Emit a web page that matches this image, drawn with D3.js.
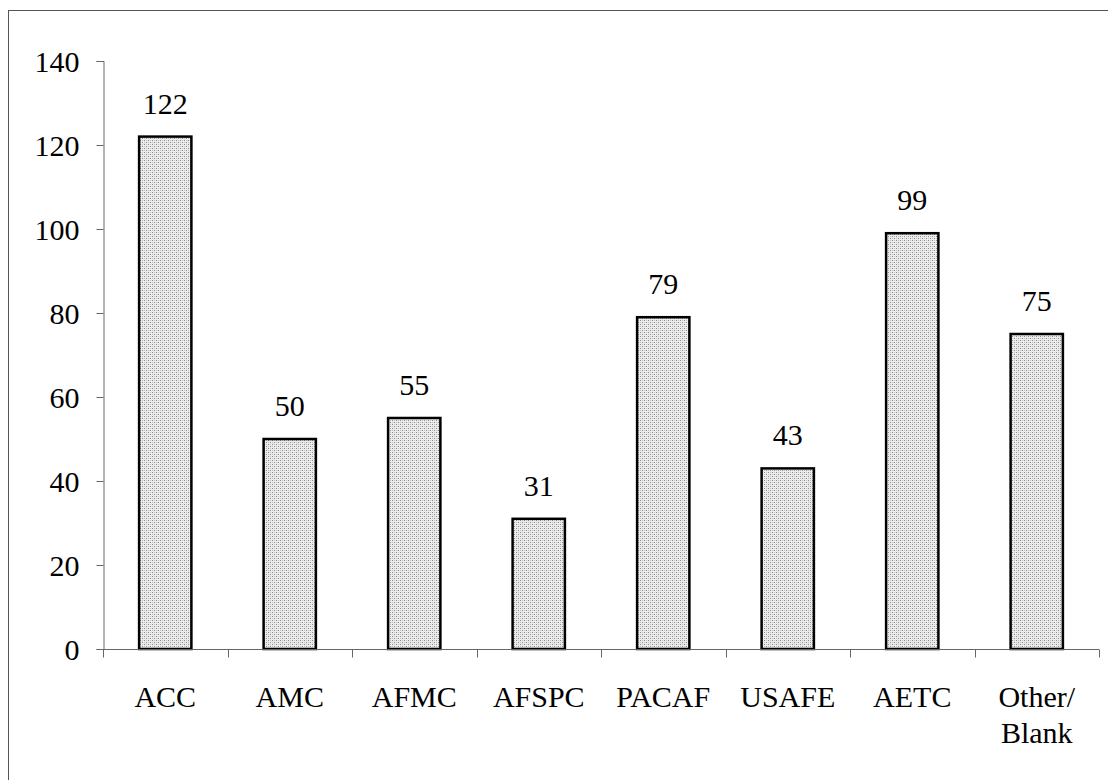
<!DOCTYPE html>
<html lang="en">
<head>
<meta charset="utf-8">
<script src="https://d3js.org/d3.v7.min.js"></script>
<style>
  body { margin: 0; background: #fff; }
  svg text { font-family: "Liberation Serif", "DejaVu Serif", serif !important; fill: #000; }
</style>
</head>
<body>
<script>

// chart data
var categories = ["ACC", "AMC", "AFMC", "AFSPC", "PACAF", "USAFE", "AETC", "Other/\nBlank"];
var counts = [122, 50, 55, 31, 79, 43, 99, 75];
var yTicks = [0, 20, 40, 60, 80, 100, 120, 140];

var width = 1108, height = 780;
var serif = "Liberation Serif, serif";

var svg = d3.select("body").append("svg")
  .attr("width", width)
  .attr("height", height);

// stipple fill for the bars
var defs = svg.append("defs");
var pat = defs.append("pattern")
  .attr("id", "stip")
  .attr("patternUnits", "userSpaceOnUse")
  .attr("width", 4).attr("height", 4);
pat.append("rect").attr("width", 4).attr("height", 4).attr("fill", "#ececec");
pat.append("rect").attr("x", 0).attr("y", 0).attr("width", 1).attr("height", 1).attr("fill", "#8c8c8c");
pat.append("rect").attr("x", 2).attr("y", 2).attr("width", 1).attr("height", 1).attr("fill", "#8c8c8c");
pat.append("rect").attr("x", 2).attr("y", 0).attr("width", 1).attr("height", 1).attr("fill", "#c0c0c0");
pat.append("rect").attr("x", 0).attr("y", 2).attr("width", 1).attr("height", 1).attr("fill", "#c0c0c0");

// outer frame (right/bottom fall off the picture)
svg.append("rect")
  .attr("x", 8.5).attr("y", 10.5)
  .attr("width", 1110).attr("height", 790)
  .attr("fill", "none")
  .attr("stroke", "#555")
  .attr("stroke-width", 1);

var x = d3.scaleBand()
  .domain(categories)
  .range([103, 1099])
  .paddingInner(0.58)
  .paddingOuter(0.29);

var y = d3.scaleLinear()
  .domain([0, 140])
  .range([649, 61]);

// y axis
var yAxis = svg.append("g")
  .attr("transform", "translate(103.5,0)")
  .call(d3.axisLeft(y).tickValues(yTicks).tickSize(7).tickPadding(17));
yAxis.attr("font-family", serif).attr("font-size", 30);
yAxis.select(".domain").attr("stroke", "#666");
yAxis.selectAll(".tick line").attr("stroke", "#666");
yAxis.selectAll(".tick text")
  .attr("font-family", serif)
  .attr("dy", "0.34em");

// bars
svg.selectAll("rect.bar")
  .data(counts)
  .enter().append("rect")
  .attr("class", "bar")
  .attr("x", function(d, i) { return x(categories[i]); })
  .attr("y", function(d) { return y(d); })
  .attr("width", x.bandwidth())
  .attr("height", function(d) { return y(0) - y(d); })
  .attr("fill", "url(#stip)")
  .attr("stroke", "#000")
  .attr("stroke-width", 2.5);

// x axis line + ticks between categories
var xAxis = svg.append("g").attr("transform", "translate(0,649.5)");
xAxis.append("line")
  .attr("x1", 103).attr("x2", 1099)
  .attr("stroke", "#666");
var step = x.step();
xAxis.selectAll("line.tk")
  .data(d3.range(categories.length + 1))
  .enter().append("line")
  .attr("class", "tk")
  .attr("x1", function(i) { return Math.round(103 + i * step) + 0.5; })
  .attr("x2", function(i) { return Math.round(103 + i * step) + 0.5; })
  .attr("y1", 0).attr("y2", 8)
  .attr("stroke", "#666");

// category labels
svg.selectAll("text.cat")
  .data(categories)
  .enter().append("text")
  .attr("class", "cat")
  .attr("text-anchor", "middle")
  .attr("font-family", serif)
  .attr("font-size", 30)
  .each(function(d) {
    var t = d3.select(this);
    var cx = x(d) + x.bandwidth() / 2;
    d.split("\n").forEach(function(line, k) {
      t.append("tspan")
        .attr("x", cx)
        .attr("y", 707 + k * 36)
        .text(line);
    });
  });

// value labels
svg.selectAll("text.val")
  .data(counts)
  .enter().append("text")
  .attr("class", "val")
  .attr("text-anchor", "middle")
  .attr("font-family", serif)
  .attr("font-size", 30)
  .attr("x", function(d, i) { return x(categories[i]) + x.bandwidth() / 2; })
  .attr("y", function(d) { return y(d) - 23; })
  .text(function(d) { return d; });

</script>
</body>
</html>
